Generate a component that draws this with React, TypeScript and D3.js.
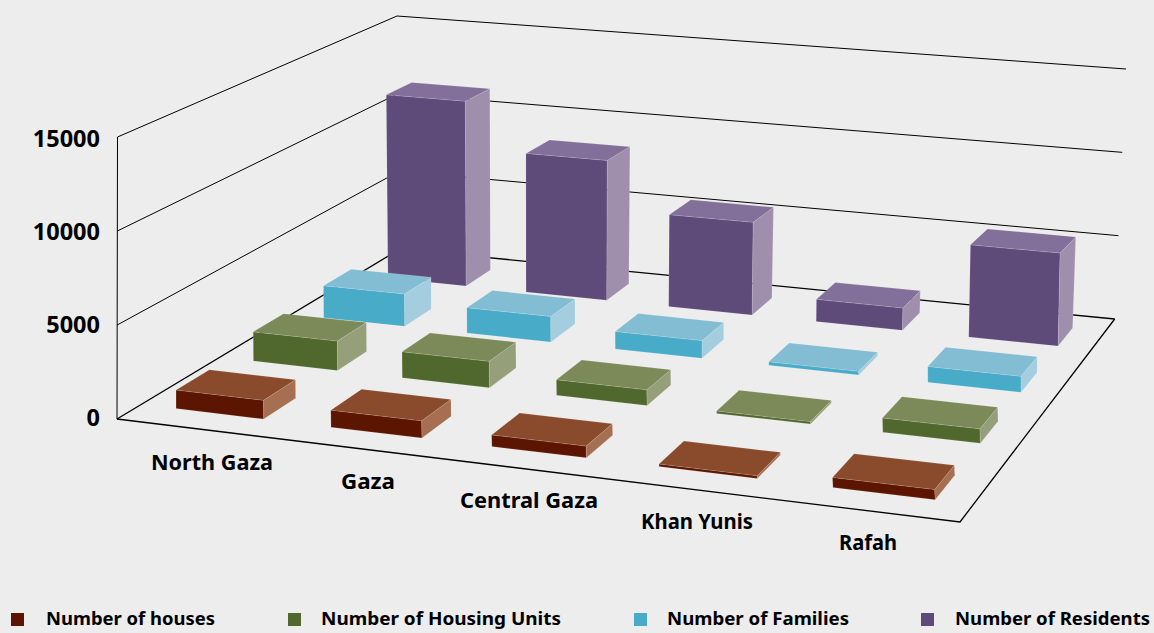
import React from "react";
import * as d3 from "d3";

const categories = ["North Gaza", "Gaza", "Central Gaza", "Khan Yunis", "Rafah"];
const seriesNames = ["Number of houses", "Number of Housing Units", "Number of Families", "Number of Residents"];
const houses = [1000, 900, 600, 130, 500];
const housingUnits = [1650, 1450, 850, 130, 750];
const families = [1900, 1480, 1000, 200, 880];
const residents = [11400, 8500, 5550, 1320, 5400];
const yTicks = [0, 5000, 10000, 15000];
const seriesValues = [houses, housingUnits, families, residents];

const frontColors = ["#5c1500", "#50682d", "#48abc8", "#5f4b7a"];
const topColors = ["#8a4b2c", "#7c8a5a", "#83bdd3", "#83709a"];
const sideColors = ["#a66f52", "#959f79", "#a4cde0", "#9f8fad"];

// Calibration of the 3D box: where its corners land in the picture.
const FL = [117, 419], FR = [960, 522], BR = [1114.7, 319], BL = [400, 249];
const FLT = [117.5, 137], BLT = [397, 16], BRT = [1126, 69];

function makeCamera() {
  const [x0, y0] = FL, [x1, y1] = FR, [x2, y2] = BR, [x3, y3] = BL;
  const dx1 = x1 - x2, dx2 = x3 - x2, sx = x0 - x1 + x2 - x3;
  const dy1 = y1 - y2, dy2 = y3 - y2, sy = y0 - y1 + y2 - y3;
  const den = dx1 * dy2 - dx2 * dy1;
  const g = (sx * dy2 - dx2 * sy) / den;
  const h = (dx1 * sy - sx * dy1) / den;
  const a = x1 - x0 + g * x1, b = x3 - x0 + h * x3, c = x0;
  const d = y1 - y0 + g * y1, e = y3 - y0 + h * y3, f = y0;
  const refs: [number, number, number[]][] = [[0, 0, FLT], [0, 1, BLT], [1, 1, BRT]];
  const rows = refs.map(([u, v, p]) => {
    const w = g * u + h * v + 1;
    return { px: p[0], py: p[1], rx: p[0] * w - (a * u + b * v + c), ry: p[1] * w - (d * u + e * v + f) };
  });
  const mpy = d3.mean(rows, r => r.py)!, mry = d3.mean(rows, r => r.ry)!;
  let nn = 0, dd = 0;
  rows.forEach(r => {
    nn += -(r.py - mpy) * (r.ry - mry);
    dd += (r.py - mpy) ** 2;
  });
  const j = nn / dd;
  const cx = d3.mean(rows, r => r.rx + r.px * j)!;
  const cy = d3.mean(rows, r => r.ry + r.py * j)!;
  const raw = (u: number, v: number, t: number): [number, number] => {
    const w = g * u + h * v + j * t + 1;
    return [(a * u + b * v + cx * t + c) / w, (d * u + e * v + cy * t + f) / w];
  };
  const err = refs.map(([u, v, p]) => {
    const q = raw(u, v, 1);
    return [p[0] - q[0], p[1] - q[1]];
  });
  // the top plane passes through the known corners; heights are linear between floor and top
  return (u: number, v: number, t: number): [number, number] => {
    const floor = raw(u, v, 0);
    const top = raw(u, v, 1);
    const back = (k: number) => err[1][k] * (1 - u) + err[2][k] * u;
    const fix = (k: number) => (1 - v) * err[0][k] + v * back(k);
    return [
      floor[0] + t * (top[0] + fix(0) - floor[0]),
      floor[1] + t * (top[1] + fix(1) - floor[1]),
    ];
  };
}
const project = makeCamera();

const uScale = d3.scaleBand<string>().domain(categories).range([0.002, 1.002]).paddingInner(0.43).paddingOuter(0.22);
const vScale = d3.scaleBand<string>().domain(seriesNames).range([0, 1]).paddingInner(0.58).paddingOuter(0.29);
const hScale = d3.scaleLinear().domain([0, 15000]).range([0, 1]);
const tickBaseline = d3.scaleLinear().domain([0, 15000]).range([426, 147]);

const poly = d3.line<[number, number]>().curve(d3.curveLinearClosed);
const FONT = "'Noto Sans', sans-serif";

const legendLayout = [
  { sx: 11, tx: 46, tw: 169 },
  { sx: 288, tx: 321, tw: 240 },
  { sx: 634, tx: 667, tw: 182 },
  { sx: 921, tx: 955, tw: 195 },
];
const catLabelLayout = [
  { x: 212, y: 470, w: 122 },
  { x: 368, y: 489, w: 54 },
  { x: 529, y: 508, w: 138 },
  { x: 697, y: 529, w: 112 },
  { x: 868, y: 550, w: 58 },
];

export default function App() {
  const bars: React.ReactNode[] = [];
  [...seriesNames].reverse().forEach(s => {
    const si = seriesNames.indexOf(s);
    categories.forEach((cat, ci) => {
      const u0 = uScale(cat)!, u1 = u0 + uScale.bandwidth();
      const v0 = vScale(s)!, v1 = v0 + vScale.bandwidth();
      const t = hScale(seriesValues[si][ci]);
      const front = [project(u0, v0, 0), project(u1, v0, 0), project(u1, v0, t), project(u0, v0, t)];
      const side = [project(u1, v0, 0), project(u1, v1, 0), project(u1, v1, t), project(u1, v0, t)];
      const top = [project(u0, v0, t), project(u1, v0, t), project(u1, v1, t), project(u0, v1, t)];
      const edge = { stroke: "#fff", strokeOpacity: 0.2, strokeWidth: 0.6 };
      bars.push(
        <g key={s + cat}>
          <path d={poly(front)!} fill={frontColors[si]} {...edge} />
          <path d={poly(side)!} fill={sideColors[si]} {...edge} />
          <path d={poly(top)!} fill={topColors[si]} {...edge} />
        </g>
      );
    });
  });

  const lineAttrs = { fill: "none", stroke: "#000", strokeWidth: 1 };
  return (
    <svg width={1154} height={633} style={{ position: "absolute", left: 0, top: 0, background: "#ededed" }}>
      <rect width={1154} height={633} fill="#ededed" />
      {yTicks.map(tick => {
        const t = hScale(tick);
        const a = project(0, 0, t), b = project(0, 1, t), c = project(1, 1, t);
        return <path key={tick} d={d3.line()([a, b, c])!} {...lineAttrs} strokeWidth={tick === 0 ? 1.3 : 1} />;
      })}
      <path d={d3.line()([project(0, 0, 0), project(0, 0, 1)])!} {...lineAttrs} />
      <path d={d3.line()([project(0, 0, 0), project(1, 0, 0), project(1, 1, 0)])!} {...lineAttrs} strokeWidth={1.3} />
      {bars}
      {yTicks.map(tick => (
        <text key={tick} x={100} y={tickBaseline(tick)} textAnchor="end" fontFamily={FONT} fontWeight={700} fontSize={23.5}>
          {tick}
        </text>
      ))}
      {categories.map((cat, i) => {
        const l = catLabelLayout[i];
        return (
          <text key={cat} x={l.x} y={l.y} textAnchor="middle" textLength={l.w} lengthAdjust="spacingAndGlyphs" fontFamily={FONT} fontWeight={700} fontSize={21.5}>
            {cat}
          </text>
        );
      })}
      {seriesNames.map((s, i) => (
        <g key={s}>
          <rect x={legendLayout[i].sx} y={613} width={13} height={13} fill={frontColors[i]} />
          <text x={legendLayout[i].tx} y={625} textLength={legendLayout[i].tw} lengthAdjust="spacingAndGlyphs" fontFamily={FONT} fontWeight={700} fontSize={18}>
            {s}
          </text>
        </g>
      ))}
    </svg>
  );
}
